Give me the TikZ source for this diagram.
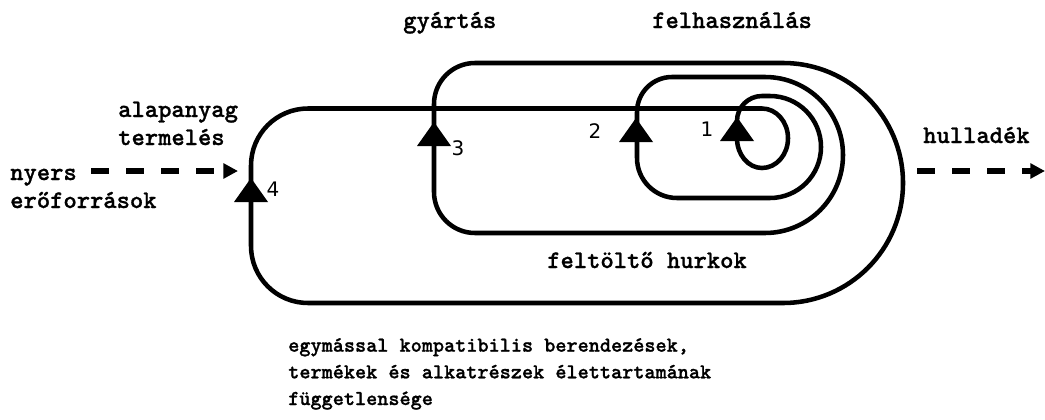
\documentclass[tikz,border=0pt]{standalone}
\usepackage{fontspec}
\newfontfamily\digitfont{DejaVu Sans}
\newfontfamily\typefont{lmmonolt10-bold.otf}[FakeBold=1]
\usetikzlibrary{arrows.meta}
\newcommand{\flowtip}[2]{\fill (#1,#2) -- ++(-17,-24) -- ++(34,0) -- cycle;}

\begin{document}
\begin{tikzpicture}[x=0.75pt,y=0.75pt,
	loopline/.style={line width=3.4pt},
	flowdash/.style={line width=5pt,dash pattern=on 13.5pt off 12.75pt,
		-{Triangle[length=11pt,width=11pt]}},
	label/.style={inner sep=0pt,align=left,font=\typefont\fontsize{19}{21}\selectfont},
	note/.style={inner sep=0pt,align=left,font=\typefont\fontsize{15.9}{20}\selectfont},
	num/.style={inner sep=0pt,font=\digitfont\fontsize{15}{18}\selectfont}]
	\useasboundingbox (0,0) rectangle (1045,419);

	% the spiral of loops
	\draw[loopline] (251,173) -- (251,253.5) arc[start angle=180,end angle=90,radius=57]
		-- (762,310.5) arc[start angle=90,end angle=-90,x radius=26,y radius=29.75]
		arc[start angle=270,end angle=180,x radius=25,y radius=29.75]
		-- (737,298) arc[start angle=180,end angle=90,radius=25]
		-- (770,323) arc[start angle=90,end angle=-90,radius=51]
		-- (677,221) arc[start angle=270,end angle=180,radius=40]
		-- (637,307) arc[start angle=180,end angle=90,radius=35]
		-- (765,342) arc[start angle=90,end angle=-90,radius=78]
		-- (475,186) arc[start angle=270,end angle=180,radius=41]
		-- (434,315) arc[start angle=180,end angle=90,radius=41]
		-- (783,356) arc[start angle=90,end angle=-90,radius=120]
		-- (308,116) arc[start angle=270,end angle=180,radius=57]
		-- cycle;

	\flowtip{737}{302}
	\flowtip{636}{301}
	\flowtip{434}{297}
	\flowtip{251}{241}

	\node[num] (n1) at (707,290) {1};
	\node[num] (n2) at (595,288) {2};
	\node[num] (n3) at (458,271) {3};
	\node[num] (n4) at (273,230) {4};

	% in and out
	\coordinate (rawin) at (91,248);
	\coordinate (rawend) at (238,248);
	\coordinate (wastein) at (917,248);
	\coordinate (wasteend) at (1045,248);
	\draw[flowdash] (rawin) -- (rawend);
	\draw[flowdash] (wastein) -- (wasteend);

	\node[label,anchor=base west] (gyartas) at (403,391) {gyártás};
	\node[label,anchor=base west] (felhasznalas) at (652,391) {felhasználás};
	\node[label,anchor=base west] (alapanyag) at (118,274) {alapanyag\\termelés};
	\node[label,anchor=base west] (nyers) at (10,211) {nyers\\erőforrások};
	\node[label,anchor=base west] (hulladek) at (923,276) {hulladék};
	\node[label,anchor=base west] (feltolto) at (547,151) {feltöltő hurkok};
	\node[note,anchor=base west] (fuggetlen) at (288,14) {egymással kompatibilis berendezések,\\termékek és alkatrészek élettartamának\\függetlensége};

\end{tikzpicture}
\end{document}
